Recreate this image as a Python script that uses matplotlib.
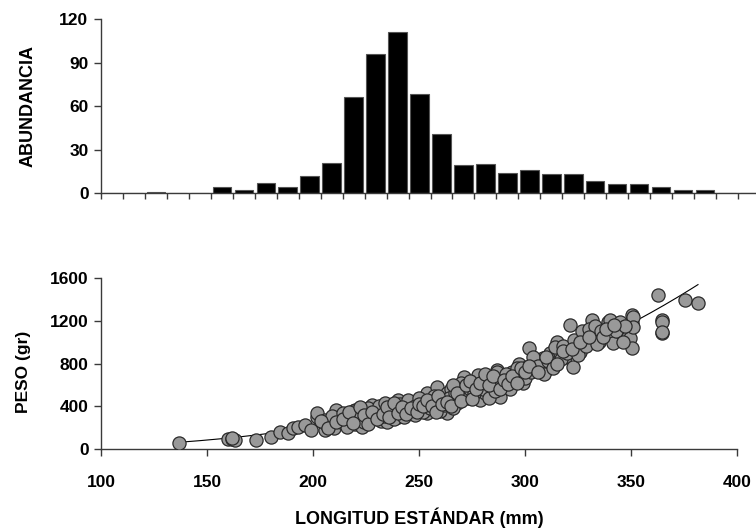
import numpy as np
import matplotlib
matplotlib.use("Agg")
from matplotlib import pyplot as plt

plt.rcParams['font.family'] = ['Liberation Sans', 'DejaVu Sans']
plt.rcParams['font.weight'] = 'bold'

# histogram: fish counts per 10 mm length class (class start, mm)
length_class = list(range(100, 400, 10))
abundancia = [0, 0, 1, 0, 0, 4, 2, 7, 4, 12, 21, 66, 96, 111, 68,
              41, 19, 20, 14, 16, 13, 13, 8, 6, 6, 4, 2, 2, 0, 0]

# scatter: standard length (mm) vs weight (gr)
longitud = [137, 160, 161.6, 163, 162, 173, 180, 184.5, 188, 190.6, 193, 196, 199,
            202, 202, 205.7, 205.7, 208, 210, 211, 212, 215, 217.5, 220, 220, 223,
            225, 228, 228, 230, 232, 233, 235, 237, 240, 240, 242, 244, 246, 247,
            249.5, 251, 254, 254, 256, 258.5, 258.5, 261, 263, 263, 265, 268, 270,
            271, 272.6, 275, 277, 279, 281, 284, 287, 287, 288, 289.6, 292, 294,
            297, 299, 301, 302, 305, 308.5, 310, 312, 315, 316.5, 319, 321, 322.6,
            324.5, 326, 328, 331.6, 332, 335, 339, 340, 341.5, 345, 348.6, 349.5,
            350.5, 350.5, 350.5, 351, 351, 362.7, 364.6, 364.6, 364.6, 364.6,
            375.5, 381.6,
            206, 209, 213, 214, 216, 218, 219, 221, 222, 224, 226, 227, 229, 231,
            231, 234, 234, 236, 238, 239, 241, 243, 245, 245, 248, 248, 250, 252,
            253, 255, 257, 259, 260, 262, 264, 266, 267, 269, 270, 273, 274, 276,
            278, 280, 282, 283, 285, 286, 290, 291, 293, 295, 296, 298, 300, 303,
            304, 306, 309, 311, 313, 314, 317, 318, 320, 323, 325, 327, 329, 330,
            333, 334, 336, 337, 343, 346, 347,
            204, 207, 211, 214, 217, 219, 222, 224, 226, 228, 230, 233, 235, 236,
            238, 240, 242, 244, 246, 249, 250, 252, 254, 256, 258, 259, 261, 263,
            265, 266, 268, 270, 272, 274, 275, 277, 279, 281, 283, 285, 288, 290,
            292, 294, 296, 298, 300, 302, 306, 310, 315, 318, 322, 326, 330, 338,
            342]
peso = [56, 90, 94, 85, 100, 84, 112, 160, 150, 196, 210, 225, 180,
        300, 337, 271, 178, 240, 196, 365, 290, 320, 271, 365, 230, 206,
        300, 412, 300, 350, 260, 365, 253, 400, 459, 300, 350, 384, 420, 346,
        440, 380, 524, 337, 450, 580, 393, 470, 524, 337, 560, 430, 500,
        674, 552, 600, 627, 459, 520, 580, 740, 720, 487, 646, 690, 720,
        800, 618, 767, 945, 820, 851, 740, 900, 1001, 898, 860, 1160, 767,
        992, 908, 1050, 1207, 1085, 1000, 1188, 1207, 992, 1188, 1048, 1039,
        1254, 1179, 945, 1235, 1142, 1441, 1207, 1085, 1188, 1095,
        1394, 1366,
        230, 310, 250, 340, 210, 300, 360, 280, 330, 250, 380, 270, 330, 300,
        400, 310, 430, 350, 280, 380, 420, 300, 360, 460, 320, 400, 480, 350,
        430, 380, 500, 440, 360, 410, 480, 380, 520, 460, 620, 480, 560, 520,
        690, 560, 650, 480, 620, 540, 600, 700, 560, 650, 760, 700, 660, 720,
        860, 780, 700, 820, 760, 950, 840, 960, 900, 1020, 880, 1100, 960, 1120,
        1150, 980, 1100, 1050, 1100, 1000, 1150,
        260, 200, 250, 280, 350, 240, 390, 320, 230, 350, 280, 330, 390, 300,
        430, 340, 390, 330, 380, 350, 420, 400, 460, 400, 350, 500, 420, 440,
        400, 600, 520, 450, 600, 640, 470, 560, 620, 700, 600, 680, 560, 650,
        610, 680, 620, 760, 720, 780, 720, 860, 800, 920, 940, 1000, 1050, 1120,
        1160]

axis_col = "#3a3a3a"

fig = plt.figure(figsize=(7.56, 5.30), dpi=100)

# ---- top: histogram
ax1 = fig.add_axes([101/756, 1 - 193/530, 659/756, 174/530])
pos = np.arange(len(abundancia)) + 0.5
ax1.bar(pos, abundancia, width=0.84, color="black", edgecolor="#555555", linewidth=0.8)
ax1.set_xlim(0, len(abundancia))
ax1.set_ylim(0, 120)
ax1.set_yticks([0, 30, 60, 90, 120])
ax1.set_xticks(np.arange(len(abundancia) + 1))
ax1.set_xticklabels([])
ax1.tick_params(axis="x", direction="out", length=4, width=1, colors=axis_col)
ax1.tick_params(axis="y", direction="out", length=5, width=1, colors=axis_col,
                labelcolor="black", labelsize=12.5, pad=4)
for s in ["top", "right"]:
    ax1.spines[s].set_visible(False)
for s in ["left", "bottom"]:
    ax1.spines[s].set_color(axis_col)
    ax1.spines[s].set_linewidth(1)
ax1.set_ylabel("ABUNDANCIA", fontsize=13, fontweight="bold")
ax1.yaxis.set_label_coords(-0.098, 0.5)

# ---- bottom: length-weight scatter with power trend line
ax2 = fig.add_axes([101/756, 1 - 449/530, 636/756, 171/530])
ax2.scatter(longitud, peso, s=90, facecolor="#999999", edgecolor="#2a2a2a",
            linewidth=0.9, zorder=3)
b, log_a = np.polyfit(np.log(longitud), np.log(peso), 1)
xl = np.linspace(min(longitud), max(longitud), 200)
ax2.plot(xl, np.exp(log_a) * xl ** b, color="black", linewidth=0.8, zorder=2)
ax2.set_xlim(100, 400)
ax2.set_ylim(0, 1600)
ax2.set_xticks([100, 150, 200, 250, 300, 350, 400])
ax2.set_yticks([0, 400, 800, 1200, 1600])
ax2.tick_params(axis="x", direction="out", length=5, width=1, colors=axis_col,
                labelcolor="black", labelsize=12.5, pad=14)
ax2.tick_params(axis="y", direction="out", length=5, width=1, colors=axis_col,
                labelcolor="black", labelsize=12.5, pad=4)
for s in ["top", "right"]:
    ax2.spines[s].set_visible(False)
for s in ["left", "bottom"]:
    ax2.spines[s].set_color(axis_col)
    ax2.spines[s].set_linewidth(1)
ax2.set_ylabel("PESO (gr)", fontsize=12.5, fontweight="bold")
ax2.yaxis.set_label_coords(-0.11, 0.45)
ax2.set_xlabel("LONGITUD ESTÁNDAR (mm)", fontsize=13, fontweight="bold", labelpad=12)

fig.savefig("out.png", dpi=100)
